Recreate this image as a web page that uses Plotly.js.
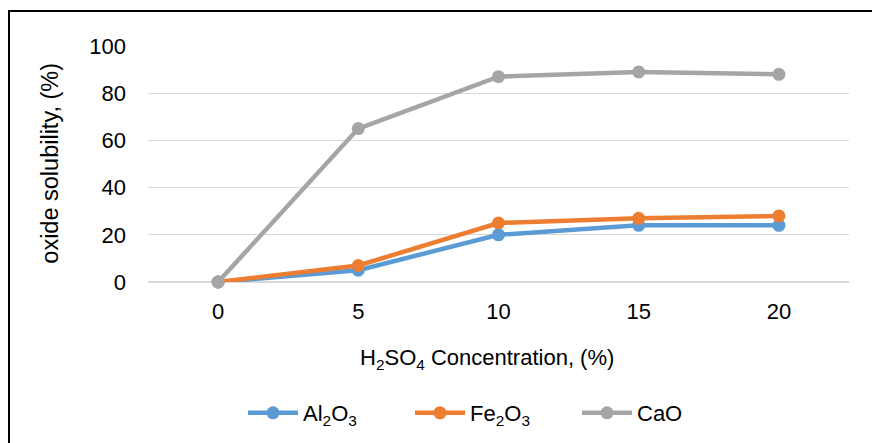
<!DOCTYPE html>
<html>
<head>
<meta charset="utf-8">
<script src="https://cdn.plot.ly/plotly-3.0.1.min.js"></script>
<style>
  html, body { margin: 0; padding: 0; background: #fff; overflow: hidden; }
  #chart { position: absolute; left: 0; top: 0; width: 872px; height: 443px; }
  #frame { position: absolute; left: 8px; top: 10px; width: 1000px; height: 1000px;
           border: 2px solid #000; pointer-events: none; box-sizing: border-box; }
</style>
</head>
<body>
<div id="chart"></div>
<div id="frame"></div>
<script>
const categories = ["0", "5", "10", "15", "20"];
const al2o3 = [0, 5, 20, 24, 24];
const fe2o3 = [0, 7, 25, 27, 28];
const cao = [0, 65, 87, 89, 88];
const yTicks = [0, 20, 40, 60, 80, 100];
const seriesNames = ["Al<sub>2</sub>O<sub>3</sub>", "Fe<sub>2</sub>O<sub>3</sub>", "CaO"];
const xTitle = "H<sub>2</sub>SO<sub>4</sub> Concentration, (%)";
const yTitle = "oxide solubility, (%)";

const colors = ["#5B9BD5", "#ED7D31", "#A5A5A5"];
const data = [al2o3, fe2o3, cao].map((vals, i) => ({
  type: "scatter",
  mode: "lines+markers",
  x: categories,
  y: vals,
  name: seriesNames[i],
  line: { color: colors[i], width: 4.5 },
  marker: { color: colors[i], size: 13 },
  cliponaxis: false
}));

const font = { family: "Liberation Sans, Arial, sans-serif", size: 22, color: "#000" };
const yTitleFont = { family: "Liberation Sans, Arial, sans-serif", size: 23.5, color: "#000" };

const layout = {
  width: 872,
  height: 443,
  margin: { l: 148, r: 23, t: 46, b: 161 },
  paper_bgcolor: "#fff",
  plot_bgcolor: "#fff",
  font: font,
  showlegend: true,
  legend: {
    orientation: "h",
    x: 243 / 872, xref: "container", xanchor: "left",
    y: 1 - 413 / 443, yref: "container", yanchor: "middle",
    font: font,
    itemwidth: 50,
    entrywidth: 102,
    traceorder: "normal"
  },
  xaxis: {
    type: "category",
    range: [-0.5, 4.5],
    showgrid: false,
    zeroline: false,
    showline: false,
    ticks: "",
    ticklabelstandoff: 14,
    tickfont: font
  },
  yaxis: {
    range: [0, 100],
    tickvals: yTicks,
    showgrid: true,
    gridcolor: "#D9D9D9",
    gridwidth: 1.3,
    zeroline: true,
    zerolinecolor: "#D9D9D9",
    zerolinewidth: 1.3,
    showline: false,
    ticks: "",
    ticklabelstandoff: 21,
    tickfont: font,
    fixedrange: true
  },
  annotations: [
    { text: xTitle, xref: "paper", yref: "paper", x: 0.484, y: -0.328,
      xanchor: "center", yanchor: "middle", showarrow: false, font: font },
    { text: yTitle, xref: "paper", yref: "paper", x: -0.140, y: 0.505,
      xanchor: "center", yanchor: "middle", textangle: -90, showarrow: false, font: yTitleFont }
  ]
};

Plotly.newPlot("chart", data, layout, { staticPlot: true, displayModeBar: false });
</script>
</body>
</html>
